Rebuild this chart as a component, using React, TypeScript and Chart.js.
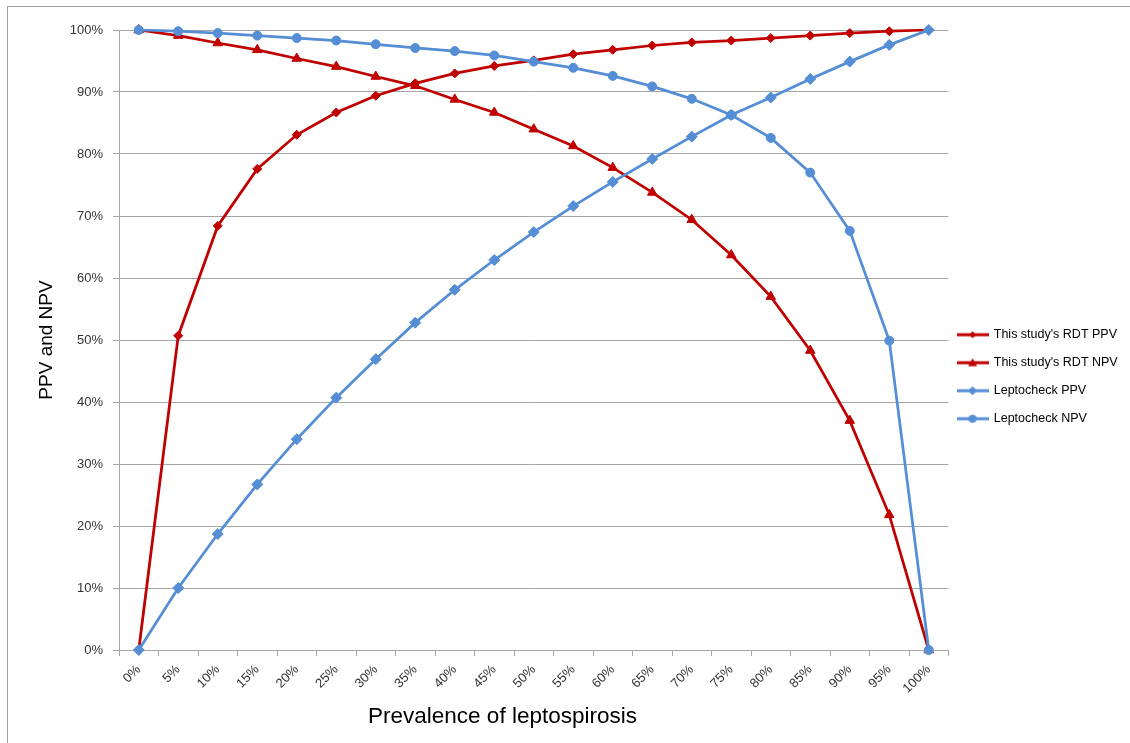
import { useEffect, useRef } from 'react';
import { Chart, registerables } from 'chart.js';

Chart.register(...registerables);

const categories = ['0%', '5%', '10%', '15%', '20%', '25%', '30%', '35%', '40%', '45%', '50%', '55%', '60%', '65%', '70%', '75%', '80%', '85%', '90%', '95%', '100%'];
const rdtPPV = [0, 50.7, 68.4, 77.6, 83.1, 86.7, 89.4, 91.4, 93.0, 94.2, 95.1, 96.1, 96.8, 97.5, 98.0, 98.3, 98.7, 99.1, 99.5, 99.8, 100];
const rdtNPV = [100, 99.1, 97.9, 96.8, 95.4, 94.1, 92.5, 91.0, 88.8, 86.7, 84.0, 81.3, 77.8, 73.8, 69.4, 63.7, 57.0, 48.3, 37.0, 21.8, 0];
const leptoPPV = [0, 10.0, 18.7, 26.7, 34.0, 40.7, 46.9, 52.8, 58.1, 62.9, 67.4, 71.6, 75.5, 79.2, 82.8, 86.3, 89.1, 92.1, 94.9, 97.6, 100];
const leptoNPV = [100, 99.8, 99.5, 99.1, 98.7, 98.3, 97.7, 97.1, 96.6, 95.9, 94.9, 93.9, 92.6, 90.9, 88.9, 86.3, 82.6, 77.0, 67.6, 49.9, 0];
const seriesLabels = ["This study's RDT PPV", "This study's RDT NPV", 'Leptocheck PPV', 'Leptocheck NPV'];
const yTickValues = [0, 10, 20, 30, 40, 50, 60, 70, 80, 90, 100];

const RED = '#C00000';
const BLUE = '#558ED5';
const GRID = '#a6a6a6';
const FONT = '"Liberation Sans", Arial, sans-serif';

function makeLegendIcon(color: string, style: string, r: number) {
  const c = document.createElement('canvas');
  c.width = 32;
  c.height = 14;
  const ctx = c.getContext('2d')!;
  ctx.strokeStyle = color;
  ctx.lineWidth = 3;
  ctx.beginPath();
  ctx.moveTo(0, 7);
  ctx.lineTo(32, 7);
  ctx.stroke();
  ctx.fillStyle = color;
  ctx.beginPath();
  const cx = 16;
  const cy = 7;
  if (style === 'rectRot') {
    ctx.moveTo(cx, cy - r);
    ctx.lineTo(cx + r, cy);
    ctx.lineTo(cx, cy + r);
    ctx.lineTo(cx - r, cy);
    ctx.closePath();
  } else if (style === 'triangle') {
    ctx.moveTo(cx, cy - r);
    ctx.lineTo(cx + r, cy + r * 0.8);
    ctx.lineTo(cx - r, cy + r * 0.8);
    ctx.closePath();
  } else {
    ctx.arc(cx, cy, r, 0, Math.PI * 2);
  }
  ctx.fill();
  return c;
}

export default function App() {
  const ref = useRef<HTMLCanvasElement>(null);

  useEffect(() => {
    document.body.style.margin = '0';
    const icons = [
      makeLegendIcon(RED, 'rectRot', 3.5),
      makeLegendIcon(RED, 'triangle', 4.5),
      makeLegendIcon(BLUE, 'rectRot', 4.5),
      makeLegendIcon(BLUE, 'circle', 4),
    ];
    const mk = (label: string, data: number[], color: string, style: string, radius: number, order: number) => ({
      label,
      data,
      borderColor: color,
      backgroundColor: color,
      borderWidth: 2.75,
      pointStyle: style,
      pointRadius: radius,
      pointBorderWidth: 1,
      pointBackgroundColor: color,
      pointBorderColor: color,
      tension: 0,
      clip: false as any,
      order,
    });
    const chart = new Chart(ref.current!, {
      type: 'line',
      data: {
        labels: categories,
        datasets: [
          mk(seriesLabels[0], rdtPPV, RED, 'rectRot', 4.5, 1),
          mk(seriesLabels[1], rdtNPV, RED, 'triangle', 5.5, 1),
          mk(seriesLabels[2], leptoPPV, BLUE, 'rectRot', 5.5, 0),
          mk(seriesLabels[3], leptoNPV, BLUE, 'circle', 4.5, 0),
        ],
      },
      options: {
        responsive: false,
        animation: false,
        layout: { padding: { top: 23, left: 0, bottom: 13, right: 2.3 } },
        plugins: {
          tooltip: { enabled: false },
          legend: {
            position: 'right',
            maxWidth: 181,
            labels: {
              usePointStyle: true,
              pointStyleWidth: 30,
              padding: 9,
              color: '#000',
              font: { family: FONT, size: 12.5, lineHeight: 19 / 12.5 },
              sort: (a: any, b: any) => a.datasetIndex - b.datasetIndex,
              generateLabels: (ch: any) => {
                const items = (Chart.defaults.plugins.legend.labels as any).generateLabels(ch);
                return items.map((it: any) => ({
                  ...it,
                  text: [it.text],
                  pointStyle: icons[it.datasetIndex],
                }));
              },
            },
          },
        },
        scales: {
          x: {
            type: 'category',
            offset: true,
            afterFit: (s: any) => { s.height = 80; },
            grid: { drawOnChartArea: false, offset: true, tickLength: 6, color: GRID, lineWidth: 1 },
            border: { color: GRID, width: 1 },
            ticks: {
              autoSkip: false,
              maxRotation: 45,
              minRotation: 45,
              padding: 6,
              color: '#333',
              font: { family: FONT, size: 13 },
            },
            title: {
              display: true,
              text: 'Prevalence of leptospirosis          ',
              color: '#000',
              font: { family: FONT, size: 22.5 },
              padding: { top: 0, bottom: 0 },
            },
          },
          y: {
            min: 0,
            max: 100,
            afterFit: (s: any) => { s.width = 111; },
            afterBuildTicks: (s: any) => { s.ticks = yTickValues.map((v) => ({ value: v })); },
            grid: { tickLength: 6, color: GRID, lineWidth: 1 },
            border: { color: GRID, width: 1 },
            ticks: {
              padding: 10,
              color: '#333',
              font: { family: FONT, size: 13 },
              callback: (v: any) => `${v}%`,
            },
            title: {
              display: true,
              text: 'PPV and NPV',
              color: '#000',
              font: { family: FONT, size: 19 },
              padding: { top: 27.5, bottom: 0 },
            },
          },
        },
      } as any,
    });
    return () => chart.destroy();
  }, []);

  return (
    <div style={{ position: 'absolute', left: 0, top: 0, width: 1130, height: 743, overflow: 'hidden', background: '#fff' }}>
      <div style={{ position: 'absolute', left: 7, top: 6, width: 1140, height: 760, border: '1px solid #a0a0a0', boxSizing: 'border-box' }} />
      <div style={{ position: 'absolute', left: 8, top: 7, width: 1122, height: 736 }}>
        <canvas ref={ref} width={1122} height={736} style={{ width: 1122, height: 736, display: 'block' }} />
      </div>
    </div>
  );
}
